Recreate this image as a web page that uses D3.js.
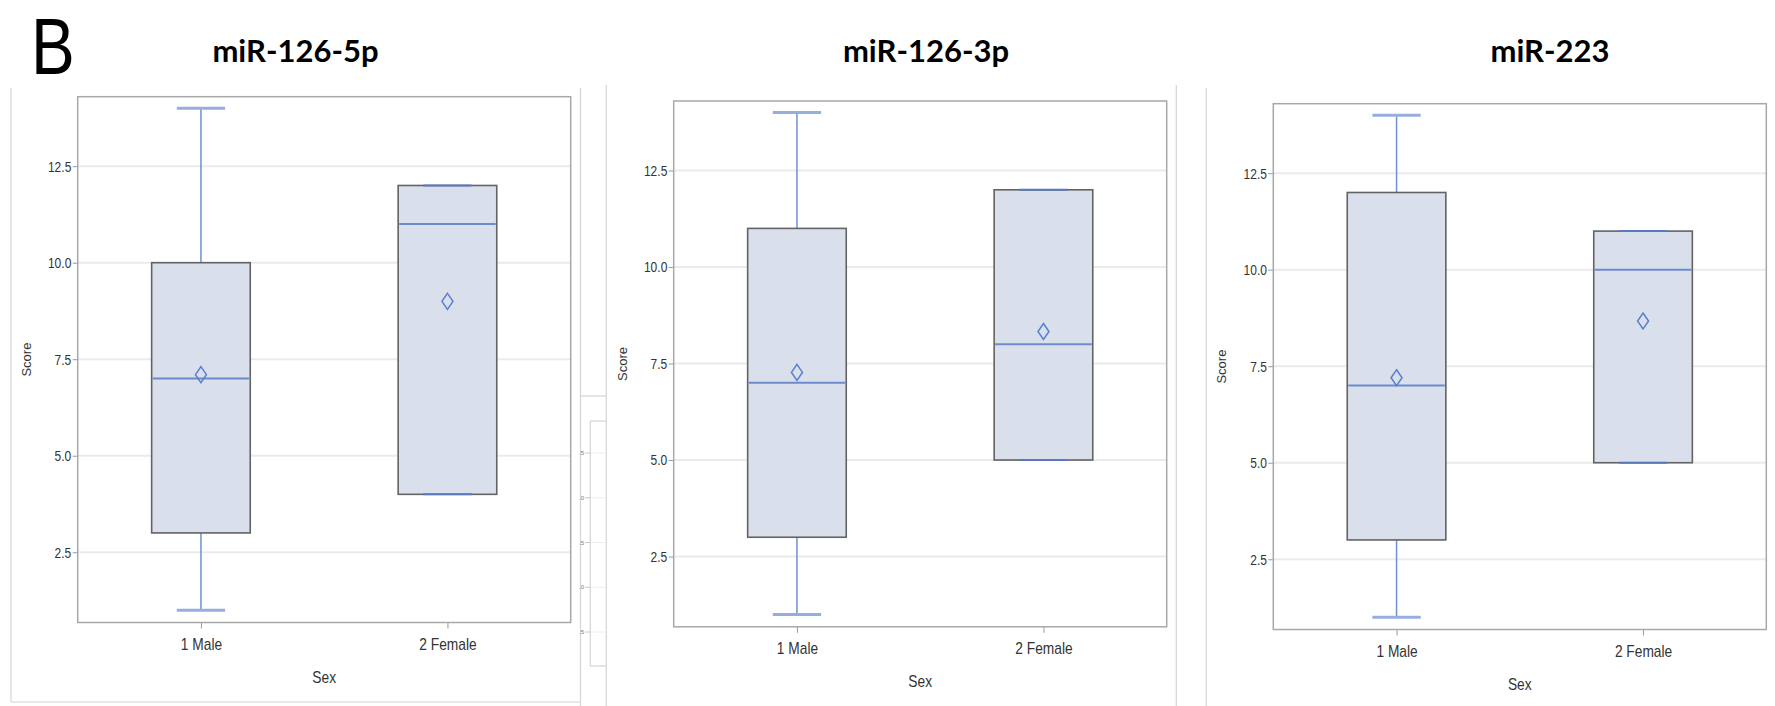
<!DOCTYPE html>
<html>
<head>
<meta charset="utf-8">
<script src="https://cdn.jsdelivr.net/npm/d3@7"></script>
<style>
  html, body { margin: 0; padding: 0; background: #fff; }
  svg { display: block; }
</style>
</head>
<body>
<svg id="chart" width="1775" height="706"></svg>
<script>
// ---- data ----
const panelTitles = ["miR-126-5p", "miR-126-3p", "miR-223"];
const categories = ["1 Male", "2 Female"];
const mins    = [[1, 4], [1, 5], [1, 5]];
const q1s     = [[3, 4], [3, 5], [3, 5]];
const medians = [[7, 11], [7, 8], [7, 10]];
const means   = [[7.1, 9], [7.27, 8.33], [7.2, 8.67]];
const q3s     = [[10, 12], [11, 12], [12, 11]];
const maxs    = [[14, 12], [14, 12], [14, 11]];
const yTicks  = [2.5, 5, 7.5, 10, 12.5];
const yDomain = [0.68, 14.3];
const xTitle = "Sex";
const yTitle = "Score";
const panelLetter = "B";
const miniTickLabels = [".5", ".0", ".5", ".0", ".5"];

// ---- layout ----
const frameLeft = [77.7, 673.7, 1273.3];
const frameTop = [96.7, 101, 103.7];
const W = 493, H = 525.8;
const titleX = [295.5, 926, 1550];

const svg = d3.select("#chart");
const sans = "'Liberation Sans', Arial, sans-serif";

// Panel letter
svg.append("text").text(panelLetter)
  .attr("transform", "translate(31,74) scale(0.82,1)")
  .attr("font-family", sans)
  .attr("font-size", 80).attr("fill", "#000");

// outer screenshot borders
const borderColor = "#d4d4d4";
const borders = [
  [11, 88, 11, 702], [11, 702, 580.5, 702], [580.5, 88, 580.5, 706],
  [580.5, 396, 606.3, 396],
  [590.3, 421, 590.3, 666], [590.3, 421, 606.3, 421], [590.3, 666, 606.3, 666],
  [606.3, 85, 606.3, 706], [1176.3, 85, 1176.3, 706],
  [1206.3, 88, 1206.3, 706]
];
svg.selectAll("line.border").data(borders).enter().append("line")
  .attr("class", "border")
  .attr("x1", d => d[0]).attr("y1", d => d[1]).attr("x2", d => d[2]).attr("y2", d => d[3])
  .attr("stroke", borderColor).attr("stroke-width", 1.2);

// tiny partial chart (cropped neighbour) ticks
const miniY = d3.scalePoint().domain(d3.range(miniTickLabels.length)).range([453, 632]);
const mini = svg.append("g");
miniTickLabels.forEach((t, i) => {
  mini.append("line").attr("x1", 585).attr("x2", 590.3).attr("y1", miniY(i)).attr("y2", miniY(i))
    .attr("stroke", "#bbb").attr("stroke-width", 0.8);
  mini.append("line").attr("x1", 590.3).attr("x2", 606).attr("y1", miniY(i)).attr("y2", miniY(i))
    .attr("stroke", "#eee").attr("stroke-width", 1);
  mini.append("text").text(t).attr("x", 584).attr("y", miniY(i) + 2)
    .attr("text-anchor", "end").attr("font-family", sans).attr("font-size", 6).attr("fill", "#777");
});

panelTitles.forEach((title, p) => {
  const x0 = frameLeft[p], y0 = frameTop[p];
  const g = svg.append("g").attr("transform", `translate(${x0},${y0})`);

  const x = d3.scalePoint().domain(categories).range([0, W]).padding(0.5);
  const y = d3.scaleLinear().domain(yDomain).range([H, 0]);
  const boxW = x.step() * 0.4;
  const capW = boxW * 0.49;

  // title
  svg.append("text").text(title)
    .attr("x", titleX[p]).attr("y", 62)
    .attr("text-anchor", "middle")
    .attr("font-family", "Lato, 'Open Sans', sans-serif")
    .attr("font-weight", "bold").attr("font-size", 31).attr("fill", "#000");

  // gridlines
  g.selectAll("line.grid").data(yTicks).enter().append("line")
    .attr("class", "grid")
    .attr("x1", 0).attr("x2", W)
    .attr("y1", d => y(d)).attr("y2", d => y(d))
    .attr("stroke", "#ebebeb").attr("stroke-width", 2);

  // y axis
  const yAxis = d3.axisLeft(y).tickValues(yTicks).tickFormat(d3.format(".1f")).tickSize(5).tickPadding(3);
  const ya = g.append("g").call(yAxis);
  ya.select(".domain").remove();
  ya.selectAll(".tick line").attr("stroke", "#999").attr("stroke-width", 1);
  ya.selectAll(".tick text")
    .attr("font-family", sans).attr("font-size", 15).attr("fill", "#333")
    .attr("transform", "scale(0.8,1)");

  // x axis
  const xAxis = d3.axisBottom(x).tickSize(6).tickPadding(10);
  const xa = g.append("g").attr("transform", `translate(0,${H})`).call(xAxis);
  xa.select(".domain").remove();
  xa.selectAll(".tick line").attr("stroke", "#999").attr("stroke-width", 1);
  xa.selectAll(".tick text")
    .attr("font-family", sans).attr("font-size", 16).attr("fill", "#333")
    .attr("transform", "scale(0.86,1)");

  // boxes
  categories.forEach((c, i) => {
    const cx = x(c);
    const bg = g.append("g");
    // whiskers
    bg.append("line").attr("x1", cx).attr("x2", cx).attr("y1", y(q3s[p][i])).attr("y2", y(maxs[p][i]))
      .attr("stroke", "#7090d0").attr("stroke-width", 1.5);
    bg.append("line").attr("x1", cx).attr("x2", cx).attr("y1", y(q1s[p][i])).attr("y2", y(mins[p][i]))
      .attr("stroke", "#7090d0").attr("stroke-width", 1.5);
    // box
    bg.append("rect")
      .attr("x", cx - boxW / 2).attr("width", boxW)
      .attr("y", y(q3s[p][i])).attr("height", y(q1s[p][i]) - y(q3s[p][i]))
      .attr("fill", "#d9e0eb").attr("stroke", "#636363").attr("stroke-width", 1.6);
    // median
    bg.append("line").attr("x1", cx - boxW / 2 + 1).attr("x2", cx + boxW / 2 - 1)
      .attr("y1", y(medians[p][i])).attr("y2", y(medians[p][i]))
      .attr("stroke", "#6d8bcb").attr("stroke-width", 2);
    // caps
    [mins[p][i], maxs[p][i]].forEach(v => {
      const onBox = (v === q1s[p][i] || v === q3s[p][i]);
      bg.append("line").attr("x1", cx - capW / 2).attr("x2", cx + capW / 2)
        .attr("y1", y(v)).attr("y2", y(v))
        .attr("stroke", onBox ? "#5a78bb" : "#97aedd").attr("stroke-width", onBox ? 2 : 3);
    });
    // mean diamond
    const my = y(means[p][i]);
    bg.append("path")
      .attr("d", `M${cx},${my - 8} L${cx + 5.5},${my} L${cx},${my + 8} L${cx - 5.5},${my} Z`)
      .attr("fill", "none").attr("stroke", "#5b7fcf").attr("stroke-width", 1.5);
  });

  // frame
  g.append("rect").attr("x", 0).attr("y", 0).attr("width", W).attr("height", H)
    .attr("fill", "none").attr("stroke", "#a8a8a8").attr("stroke-width", 1.5);

  // axis titles
  g.append("text").text(xTitle)
    .attr("transform", `translate(${W / 2},${H + 60}) scale(0.86,1)`)
    .attr("text-anchor", "middle")
    .attr("font-family", sans).attr("font-size", 16).attr("fill", "#333");
  g.append("text").text(yTitle)
    .attr("transform", `translate(-47,${H / 2}) rotate(-90)`)
    .attr("text-anchor", "middle")
    .attr("font-family", sans).attr("font-size", 13).attr("fill", "#333");
});
</script>
</body>
</html>
